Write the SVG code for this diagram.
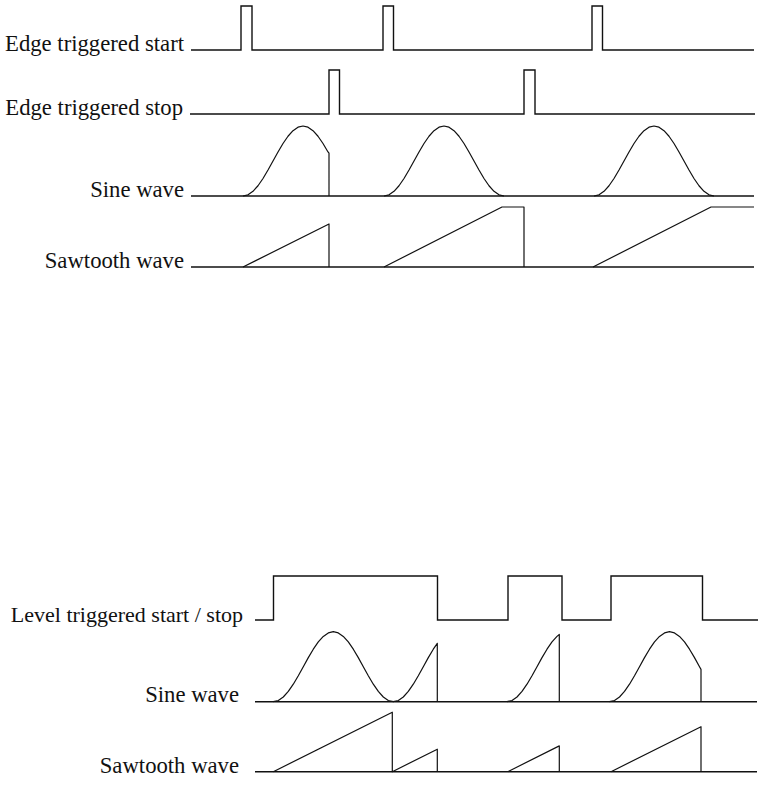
<svg xmlns="http://www.w3.org/2000/svg" xmlns:xlink="http://www.w3.org/1999/xlink" width="767" height="792" viewBox="0 0 767 792">
<style>
.lbl{font-family:"Liberation Serif","Times New Roman",serif;font-size:22.7px;fill:#111;text-anchor:end}
.sig{fill:none;stroke:#111;stroke-width:1.4;stroke-linejoin:miter}
.crv{fill:none;stroke:#111;stroke-width:1.2;stroke-linejoin:round}
</style>
<defs>
<path id="sine" d="M0,0 L5,-1.19 L10,-4.69 L15,-10.25 L20,-17.5 L25,-25.94 L30,-35 L35,-44.06 L40,-52.5 L45,-59.75 L50,-65.31 L55,-68.81 L60,-70 L65,-68.81 L70,-65.31 L75,-59.75 L80,-52.5 L85,-44.06 L90,-35 L95,-25.94 L100,-17.5 L105,-10.25 L110,-4.69 L115,-1.19 L120,0"/>
</defs>
<rect width="767" height="792" fill="#fff"/>

<g id="edge-start">
<text class="lbl" x="184" y="51">Edge triggered start</text>
<path class="sig" d="M191,50 H241 V6 H252 V50 H383 V6 H393.5 V50 H592 V6 H602.5 V50 H754"/>
</g>

<g id="edge-stop">
<text class="lbl" x="183" y="114.5">Edge triggered stop</text>
<path class="sig" d="M190,114 H329 V70 H339.5 V114 H524 V70 H535 V114 H755"/>
</g>

<g id="sine-top">
<text class="lbl" x="184" y="197">Sine wave</text>
<path class="sig" d="M191,196 H754"/>
<path class="crv" transform="translate(243,196)" d="M0,0 L5,-1.19 L10,-4.69 L15,-10.25 L20,-17.5 L25,-25.94 L30,-35 L35,-44.06 L40,-52.5 L45,-59.75 L50,-65.31 L55,-68.81 L60,-70 L65,-68.81 L70,-65.31 L75,-59.75 L80,-52.5 L85,-44.06 L86,-42.8 V0"/>
<use xlink:href="#sine" href="#sine" class="crv" transform="translate(384,196)"/>
<use xlink:href="#sine" href="#sine" class="crv" transform="translate(594,196)"/>
</g>

<g id="saw-top">
<text class="lbl" x="184" y="268">Sawtooth wave</text>
<path class="sig" d="M191,267 H754"/>
<path class="crv" d="M243,267 L329,224 V267"/>
<path class="crv" d="M384,267 L502,207 H524 V267"/>
<path class="crv" d="M593,267 L711,207 H754"/>
</g>

<g id="level">
<text class="lbl" x="243" y="622.3" style="font-size:22px">Level triggered start / stop</text>
<path class="sig" d="M255,620 H273.5 V576 H437.5 V620 H508 V576 H562 V620 H611 V576 H702.5 V620 H758"/>
</g>

<g id="sine-bottom">
<text class="lbl" x="239" y="702">Sine wave</text>
<path class="sig" d="M255,701.7 H757"/>
<path class="crv" transform="translate(273.3,701.7)" d="M0,0 L5,-1.19 L10,-4.69 L15,-10.25 L20,-17.5 L25,-25.94 L30,-35 L35,-44.06 L40,-52.5 L45,-59.75 L50,-65.31 L55,-68.81 L60,-70 L65,-68.81 L70,-65.31 L75,-59.75 L80,-52.5 L85,-44.06 L90,-35 L95,-25.94 L100,-17.5 L105,-10.25 L110,-4.69 L115,-1.19 L120,0 L125,-1.19 L130,-4.69 L135,-10.25 L140,-17.5 L145,-25.94 L150,-35 L155,-44.06 L160,-52.5 L164,-58.4 V0"/>
<path class="crv" transform="translate(507,701.7)" d="M0,0 L5,-1.19 L10,-4.69 L15,-10.25 L20,-17.5 L25,-25.94 L30,-35 L35,-44.06 L40,-52.5 L45,-59.75 L50,-65.31 L52.3,-67.2 V0"/>
<path class="crv" transform="translate(609.5,701.7)" d="M0,0 L5,-1.19 L10,-4.69 L15,-10.25 L20,-17.5 L25,-25.94 L30,-35 L35,-44.06 L40,-52.5 L45,-59.75 L50,-65.31 L55,-68.81 L60,-70 L65,-68.81 L70,-65.31 L75,-59.75 L80,-52.5 L85,-44.06 L90,-35 L91.5,-32.3 V0"/>
</g>

<g id="saw-bottom">
<text class="lbl" x="239" y="773">Sawtooth wave</text>
<path class="sig" d="M255,771.7 H757"/>
<path class="crv" d="M273.3,771.7 L392.3,712.2 V771.7 L437.3,749.2 V771.7"/>
<path class="crv" d="M507.7,771.7 L559.3,745.9 V771.7"/>
<path class="crv" d="M611,771.7 L701,726.7 V771.7"/>
</g>
</svg>
